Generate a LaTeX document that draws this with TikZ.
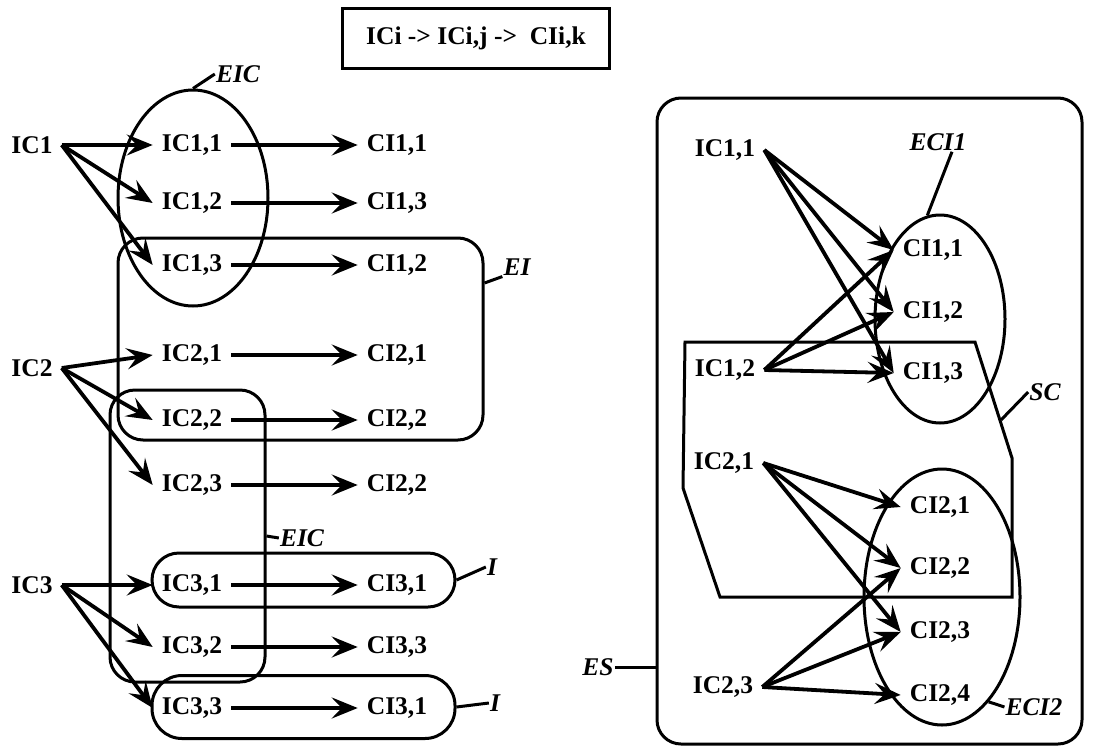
\documentclass[tikz,border=0pt]{standalone}
\usepackage{fontspec}
\setmainfont{Liberation Serif}
\usetikzlibrary{positioning,arrows.meta,shapes.geometric}

\newcommand{\figfont}{\fontsize{25.5}{30}\selectfont}

\begin{document}
\begin{tikzpicture}[x=1pt, y=-1pt,
    lbl/.style={font=\figfont\bfseries, inner xsep=9pt, inner ysep=2pt},
    tag/.style={font=\figfont\bfseries\itshape, inner sep=1pt},
    grp/.style={draw, line width=3pt},
    oval/.style={grp, ellipse, inner sep=0pt},
    arr/.style={-{Stealth[length=26pt, width=21pt, inset=10pt]}, line width=3.8pt},
    lead/.style={line width=3pt}]
  \useasboundingbox (0,0) rectangle (1108,747);

  % title
  \node[grp, lbl, minimum width=267pt, minimum height=60pt] (title) at (476,38) {ICi -> ICi,j -> \ CIi,k};

  % left part: groups
  \node[oval, minimum width=150pt, minimum height=216pt] (eicA) at (193,198) {};
  \node[grp, rounded corners=25pt, minimum width=365pt, minimum height=202pt] (ei) at (300.5,339) {};
  \node[grp, rounded corners=25pt, minimum width=155pt, minimum height=292pt] (eicB) at (187.5,536) {};
  \node[grp, rounded corners=27pt, minimum width=303pt, minimum height=54pt] (iA) at (303.5,580) {};
  \node[grp, rounded corners=30pt, minimum width=303pt, minimum height=63pt] (iB) at (303.5,707) {};

  % left part: items
  \node[lbl] (ic1) at (32,145) {IC1};
  \node[lbl] (ic2) at (32,368) {IC2};
  \node[lbl] (ic3) at (32,585) {IC3};
  \node[lbl] (ic11) at (192,145) {IC1,1};
  \node[lbl] (ic12) at (192,203) {IC1,2};
  \node[lbl] (ic13) at (192,265) {IC1,3};
  \node[lbl] (ic21) at (192,355) {IC2,1};
  \node[lbl] (ic22) at (192,420) {IC2,2};
  \node[lbl] (ic23) at (192,485) {IC2,3};
  \node[lbl] (ic31) at (192,585) {IC3,1};
  \node[lbl] (ic32) at (192,647) {IC3,2};
  \node[lbl] (ic33) at (192,708) {IC3,3};
  \node[lbl] (ci11) at (397,145) {CI1,1};
  \node[lbl] (ci13) at (397,203) {CI1,3};
  \node[lbl] (ci12) at (397,265) {CI1,2};
  \node[lbl] (ci21) at (397,355) {CI2,1};
  \node[lbl] (ci22) at (397,420) {CI2,2};
  \node[lbl] (ci22b) at (397,485) {CI2,2};
  \node[lbl] (ci31) at (397,585) {CI3,1};
  \node[lbl] (ci33) at (397,647) {CI3,3};
  \node[lbl] (ci31b) at (397,708) {CI3,1};

  \draw[arr] (ic1.east) -- (ic11.west);
  \draw[arr] (ic1.east) -- (ic12.west);
  \draw[arr] (ic1.east) -- (ic13.west);
  \draw[arr] (ic2.east) -- (ic21.west);
  \draw[arr] (ic2.east) -- (ic22.west);
  \draw[arr] (ic2.east) -- (ic23.west);
  \draw[arr] (ic3.east) -- (ic31.west);
  \draw[arr] (ic3.east) -- (ic32.west);
  \draw[arr] (ic3.east) -- (ic33.west);
  \draw[arr] (ic11) -- (ci11);
  \draw[arr] (ic12) -- (ci13);
  \draw[arr] (ic13) -- (ci12);
  \draw[arr] (ic21) -- (ci21);
  \draw[arr] (ic22) -- (ci22);
  \draw[arr] (ic23) -- (ci22b);
  \draw[arr] (ic31) -- (ci31);
  \draw[arr] (ic32) -- (ci33);
  \draw[arr] (ic33) -- (ci31b);

  % left part: tags
  \node[tag] (eicAlbl) at (238,74) {EIC};
  \node[tag] (eilbl) at (517,267) {EI};
  \node[tag] (eicBlbl) at (302,538) {EIC};
  \node[tag] (iAlbl) at (492,567) {I};
  \node[tag] (iBlbl) at (495,703) {I};
  \draw[lead] (eicA.north) -- (eicAlbl.west);
  \draw[lead] ([yshift=56pt]ei.east) -- (eilbl.south west);
  \draw[lead] (eicB.east) -- (eicBlbl.west);
  \draw[lead] (iA.east) -- (iAlbl.west);
  \draw[lead] (iB.east) -- (iBlbl.west);

  % right part: groups
  \node[grp, rounded corners=24pt, minimum width=425pt, minimum height=646pt] (es) at (869.5,421) {};
  \node[oval, minimum width=130pt, minimum height=208pt] (eciA) at (940,319) {};
  \node[oval, minimum width=156pt, minimum height=256pt] (eciB) at (942,597) {};
  \draw[grp] (685,342) -- (975,342) -- (1012,458) -- (1012,597) -- (720,597) -- (683,488) -- cycle;
  \coordinate (scpt) at (1001,420);

  % right part: items
  \node[lbl] (rc11) at (725,150) {IC1,1};
  \node[lbl] (rc12) at (725,370) {IC1,2};
  \node[lbl] (rc21) at (724,463) {IC2,1};
  \node[lbl] (rc23) at (723,687) {IC2,3};
  \node[lbl] (rci11) at (933,250) {CI1,1};
  \node[lbl] (rci12) at (933,312) {CI1,2};
  \node[lbl] (rci13) at (933,373) {CI1,3};
  \node[lbl] (rci21) at (940,507) {CI2,1};
  \node[lbl] (rci22) at (940,568) {CI2,2};
  \node[lbl] (rci23) at (940,632) {CI2,3};
  \node[lbl] (rci24) at (940,695) {CI2,4};

  \draw[arr] (rc11.east) -- (rci11.west);
  \draw[arr] (rc11.east) -- (rci12.west);
  \draw[arr] (rc11.east) -- (rci13.west);
  \draw[arr] (rc12.east) -- (rci11.west);
  \draw[arr] (rc12.east) -- (rci12.west);
  \draw[arr] (rc12.east) -- (rci13.west);
  \draw[arr] (rc21.east) -- (rci21.west);
  \draw[arr] (rc21.east) -- (rci22.west);
  \draw[arr] (rc21.east) -- (rci23.west);
  \draw[arr] (rc23.east) -- (rci22.west);
  \draw[arr] (rc23.east) -- (rci23.west);
  \draw[arr] (rc23.east) -- (rci24.west);

  % right part: tags
  \node[tag] (eciAlbl) at (938,142) {ECI1};
  \node[tag] (sclbl) at (1045,392) {SC};
  \node[tag] (eslbl) at (598,667) {ES};
  \node[tag] (eciBlbl) at (1034,707) {ECI2};
  \draw[lead] ([xshift=14pt]eciAlbl.south) -- (eciA.97);
  \draw[lead] (sclbl.west) -- (scpt);
  \draw[lead] (eslbl.east) -- (eslbl -| es.west);
  \draw[lead] (eciB.-66) -- (eciBlbl.west);
\end{tikzpicture}
\end{document}
